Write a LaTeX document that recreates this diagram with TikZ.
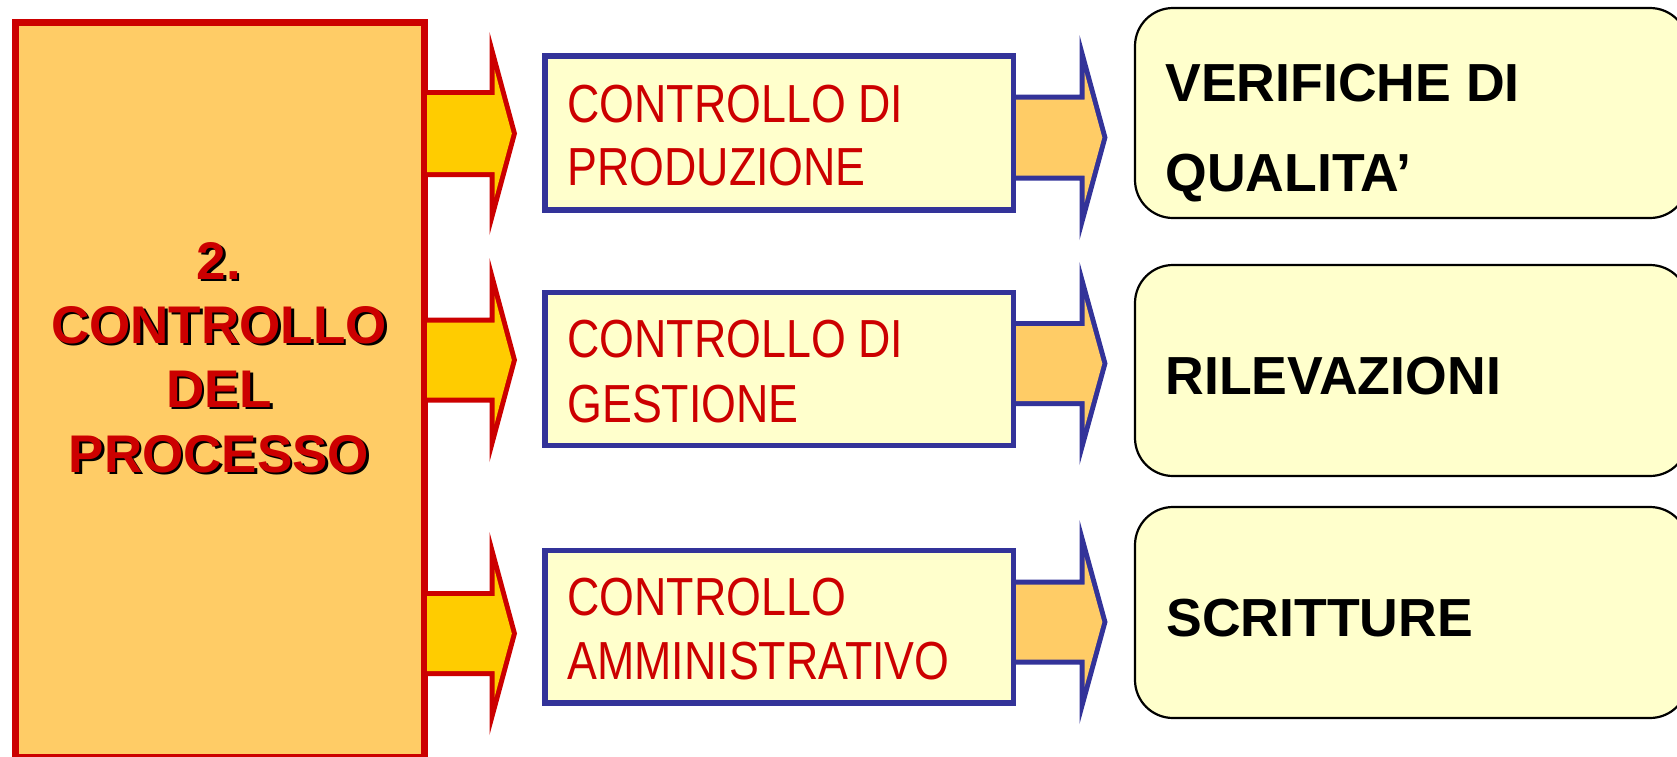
\documentclass[tikz,border=0pt]{standalone}
\usepackage{fontspec}
\setmainfont{Liberation Sans}
\newfontfamily\narrowfont[FakeStretch=0.835]{Liberation Sans}
\usetikzlibrary{fit}
\definecolor{dred}{HTML}{CC0000}
\definecolor{lorange}{HTML}{FFCC66}
\definecolor{gold}{HTML}{FFCC00}
\definecolor{dblue}{HTML}{333399}
\definecolor{pale}{HTML}{FFFFCC}

% block arrow: #1 outline colour, #2 fill colour, #3 x start, #4 x head base (outer),
% #5 x tip, #6 y centre, #7 shaft half height (outer), #8 head half height (outer), #9 outline width
\newcommand{\blockarrow}[9]{%
  \pgfmathsetmacro\BAdx{#5-#4}%
  \pgfmathsetmacro\BAlen{sqrt((\BAdx)^2+(#8)^2)}%
  \pgfmathsetmacro\BApx{#5-#9*#8/\BAlen}%
  \pgfmathsetmacro\BApy{#9*\BAdx/\BAlen}%
  \pgfmathsetmacro\BAt{(#4+#9-\BApx)/\BAdx}%
  \pgfmathsetmacro\BAup{-(\BApy+\BAt*#8)}%
  \pgfmathsetmacro\BAtt{-\BApy/#8}%
  \pgfmathsetmacro\BAxt{\BApx+\BAtt*\BAdx}%
  \fill[#1] (#3,#6-#7) -- (#4,#6-#7) -- (#4,#6-#8) -- (#5,#6) -- (#4,#6+#8)
    -- (#4,#6+#7) -- (#3,#6+#7) -- cycle;
  \fill[#2] (#3,#6-#7+#9) -- (#4+#9,#6-#7+#9) -- (#4+#9,#6-\BAup) -- (\BAxt,#6)
    -- (#4+#9,#6+\BAup) -- (#4+#9,#6+#7-#9) -- (#3,#6+#7-#9) -- cycle;
}

\begin{document}
\begin{tikzpicture}[x=0.5pt,y=-0.5pt,
  lbox/.style={draw=dred, fill=lorange, line width=3.5pt, inner sep=0pt},
  mbox/.style={draw=dblue, fill=pale, line width=2.75pt, inner sep=0pt},
  rbox/.style={draw=black, fill=pale, line width=1.1pt, rounded corners=19pt, inner sep=0pt},
  lefttxt/.style={inner sep=0pt, anchor=base, font=\fontsize{26.5}{31}\selectfont\bfseries},
  midtxt/.style={inner sep=0pt, anchor=base west, text=dred, font=\fontsize{26.8}{31}\selectfont\narrowfont},
  righttxt/.style={inner sep=0pt, anchor=base west, text=black, font=\fontsize{26.8}{31}\selectfont\bfseries}]
\useasboundingbox (0,0) rectangle (1677,756);

% left box
\node[lbox, fit={(15,22.5) (424,757)}] (L) {};
\foreach \nm/\yy/\tx in {t1/279/{2.}, t2/343/{CONTROLLO}, t3/407/{DEL}, t4/472/{PROCESSO}}{
  \node[lefttxt, text=black] at (221.5,\yy+2.5) {\tx};
  \node[lefttxt, text=dred] (\nm) at (219,\yy) {\tx};
}

% middle boxes
\node[mbox, fit={(545,56) (1013.5,210)}] (m1) {};
\node[mbox, fit={(545,292.5) (1013.5,445.5)}] (m2) {};
\node[mbox, fit={(545,550.5) (1013.5,703)}] (m3) {};

\node[midtxt] (m1a) at (567,122) {CONTROLLO DI};
\node[midtxt] (m1b) at (567,185) {PRODUZIONE};
\node[midtxt] (m2a) at (567,357) {CONTROLLO DI};
\node[midtxt] (m2b) at (567,422) {GESTIONE};
\node[midtxt] (m3a) at (567,615) {CONTROLLO};
\node[midtxt] (m3b) at (567,679) {AMMINISTRATIVO};

% right boxes
\node[rbox, fit={(1135,8) (1688,218)}] (r1) {};
\node[rbox, fit={(1135,265) (1688,476)}] (r2) {};
\node[rbox, fit={(1135,507) (1688,718)}] (r3) {};

\node[righttxt] (r1a) at (1165,101) {VERIFICHE DI};
\node[righttxt] (r1b) at (1165,191) {QUALITA’};
\node[righttxt] (r2a) at (1165,394) {RILEVAZIONI};
\node[righttxt] (r3a) at (1166,636) {SCRITTURE};

% yellow arrows (left box -> middle boxes)
\blockarrow{dred}{gold}{427}{489.5}{517}{133.5}{43.5}{101.5}{5}
\blockarrow{dred}{gold}{427}{489.5}{517}{360}{42.5}{102}{5}
\blockarrow{dred}{gold}{427}{489.5}{517}{633.5}{42.5}{101.5}{5}

% blue arrows (middle boxes -> right boxes)
\blockarrow{dblue}{lorange}{1016}{1079.5}{1107.5}{137.5}{43}{102.5}{5}
\blockarrow{dblue}{lorange}{1016}{1079.5}{1107.5}{363.5}{42.5}{101.5}{5}
\blockarrow{dblue}{lorange}{1016}{1079.5}{1107.5}{622}{42.5}{102}{5}
\end{tikzpicture}
\end{document}
